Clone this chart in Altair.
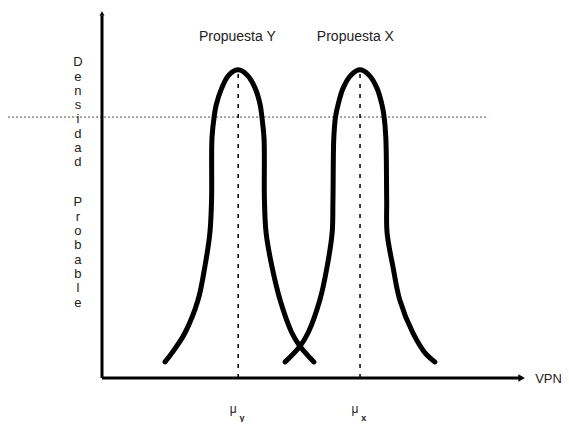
import altair as alt
import pandas as pd

# ---- data (VPN units 0-100, density units 0-100) ----
curve_y_vpn = [14.9, 16.5, 19.6, 22.7, 24.3, 25.5, 25.9, 26.0, 26.5, 27.0, 28.3, 30.0, 32.2,
               34.3, 36.2, 37.4, 37.8, 38.3, 38.4, 38.8, 40.2, 42.1, 44.9, 46.8, 50.1]
curve_y_den = [4.4, 6.8, 12.3, 21.3, 30.3, 39.6, 48.6, 65.6, 71.3, 74.6, 79.2, 82.8, 84.2,
               82.8, 79.2, 74.6, 71.3, 65.6, 48.6, 39.6, 30.3, 21.3, 12.3, 8.7, 4.4]
curve_x_vpn = [43.3, 46.8, 48.7, 51.5, 53.2, 54.4, 54.6, 54.8, 55.2, 55.8, 57.0, 58.9, 61.0,
               63.1, 65.0, 66.2, 66.7, 67.1, 67.3, 67.4, 68.8, 70.4, 73.5, 76.4, 78.7]
curve_x_den = [4.4, 8.7, 12.3, 21.3, 30.3, 39.6, 48.6, 65.6, 71.3, 74.6, 79.2, 82.8, 84.2,
               82.8, 79.2, 74.6, 71.3, 65.6, 48.6, 39.6, 30.3, 21.3, 12.3, 6.8, 4.4]

means = [32.2, 61.0]            # mu_y, mu_x
peak = 84.2
proposal_labels = ["Propuesta Y", "Propuesta X"]
proposal_label_x = [32.0, 59.9]
proposal_label_y = 93.2
mean_subs = ["y", "x"]
ref_level = 71.3                 # horizontal dotted reference
ref_span = [-22.2, 91.3]
y_title_words = ["Densidad", "Probable"]
y_title_tops = [87.9, 49.6]
x_title = "VPN"

FONT = "Liberation Sans"

curves = pd.DataFrame({
    "vpn": curve_y_vpn + curve_x_vpn,
    "den": curve_y_den + curve_x_den,
    "curve": ["Y"] * len(curve_y_vpn) + ["X"] * len(curve_x_vpn),
    "idx": list(range(len(curve_y_vpn))) + list(range(len(curve_x_vpn))),
})

xs = alt.Scale(domain=[0, 100], nice=False, zero=False)
ys = alt.Scale(domain=[0, 100], nice=False, zero=False)

X = lambda f: alt.X(f, type="quantitative", scale=xs, axis=None)
Y = lambda f: alt.Y(f, type="quantitative", scale=ys, axis=None)

# axes drawn as rules
axes_df = pd.DataFrame({"x": [0, 0], "x2": [0, 99], "y": [0, 0], "y2": [99, 0]})
axes = alt.Chart(axes_df).mark_rule(color="black", strokeWidth=3).encode(
    x=X("x"), x2="x2", y=Y("y"), y2="y2")

arrow_x = alt.Chart(pd.DataFrame({"x": [99.2], "y": [0]})).mark_point(
    shape="triangle-right", filled=True, color="black", size=55, opacity=1).encode(x=X("x"), y=Y("y"))
arrow_y = alt.Chart(pd.DataFrame({"x": [0], "y": [99.6]})).mark_point(
    shape="triangle-up", filled=True, color="black", size=25, opacity=1).encode(x=X("x"), y=Y("y"))

# horizontal dotted reference
ref = alt.Chart(pd.DataFrame({"x": [ref_span[0]], "x2": [ref_span[1]], "y": [ref_level]})).mark_rule(
    color="#444", strokeWidth=1, strokeDash=[2, 2]).encode(x=X("x"), x2="x2", y=Y("y"))

# vertical dashed lines at means
vl = alt.Chart(pd.DataFrame({"x": means, "y": [0, 0], "y2": [peak, peak]})).mark_rule(
    color="black", strokeWidth=1.5, strokeDash=[4, 6]).encode(x=X("x"), y=Y("y"), y2="y2")

lines = alt.Chart(curves).mark_line(
    color="black", strokeWidth=5, strokeCap="round", strokeJoin="round", interpolate="catmull-rom").encode(
    x=X("vpn"), y=Y("den"), detail="curve:N", order="idx:Q")

prop = alt.Chart(pd.DataFrame({"x": proposal_label_x, "y": [proposal_label_y] * 2, "t": proposal_labels})).mark_text(
    font=FONT, fontSize=14, color="#222", align="center", baseline="middle").encode(
    x=X("x"), y=Y("y"), text="t:N")

mu = alt.Chart(pd.DataFrame({"x": [m - 1.2 for m in means], "y": [-8.4, -8.4], "t": ["μ", "μ"]})).mark_text(
    font=FONT, fontSize=12, color="#222", align="center", baseline="middle").encode(
    x=X("x"), y=Y("y"), text="t:N")
sub = alt.Chart(pd.DataFrame({"x": [m + 0.9 for m in means], "y": [-10.9, -10.9], "t": mean_subs})).mark_text(
    font=FONT, fontSize=9, fontWeight="bold", color="#222", align="center", baseline="middle").encode(
    x=X("x"), y=Y("y"), text="t:N")

vpn = alt.Chart(pd.DataFrame({"x": [102.4], "y": [-0.4], "t": [x_title]})).mark_text(
    font=FONT, fontSize=13, color="#222", align="left", baseline="middle").encode(
    x=X("x"), y=Y("y"), text="t:N")

# stacked vertical title, one letter per line, one block per word
ylab = alt.Chart(pd.DataFrame({
    "x": [-5.7, -5.7], "y": y_title_tops,
    "t": ["\n".join(w) for w in y_title_words]})).mark_text(
    font=FONT, fontSize=13, color="#222", align="center", baseline="top", lineBreak="\n", lineHeight=14.3).encode(
    x=X("x"), y=Y("y"), text="t:N")

chart = alt.layer(ref, vl, lines, axes, arrow_x, arrow_y, prop, mu, sub, vpn, ylab).properties(
    width=423, height=366,
    autosize=alt.AutoSizeParams(type="none"),
    padding={"left": 94, "top": 4, "right": 36, "bottom": 44},
    background="white",
).configure_view(strokeWidth=0)

chart.save("out.html", embed_options={"renderer": "svg", "actions": False})
